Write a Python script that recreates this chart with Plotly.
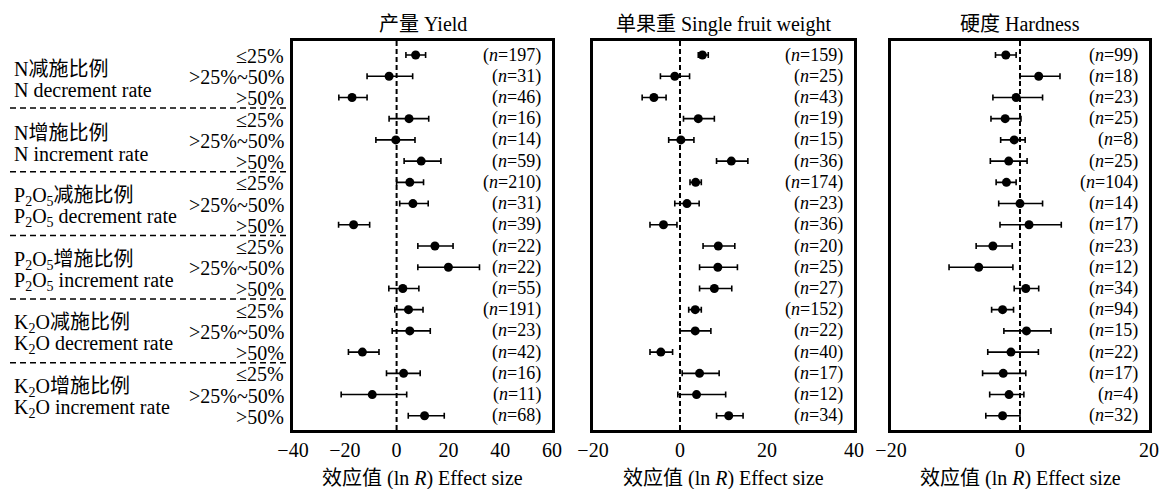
import plotly.graph_objects as go

W, H = 1159, 489

# ---------------- data ----------------
rows = list(range(1, 19))
sub_labels = ["≤25%", ">25%~50%", ">50%"] * 6
group_cn = ["N减施比例", "N增施比例", "P<sub>2</sub>O<sub>5</sub>减施比例",
            "P<sub>2</sub>O<sub>5</sub>增施比例", "K<sub>2</sub>O减施比例", "K<sub>2</sub>O增施比例"]
group_en = ["N decrement rate", "N increment rate", "P<sub>2</sub>O<sub>5</sub> decrement rate",
            "P<sub>2</sub>O<sub>5</sub> increment rate", "K<sub>2</sub>O decrement rate",
            "K<sub>2</sub>O increment rate"]

panel_titles = ["产量 Yield", "单果重 Single fruit weight", "硬度 Hardness"]
axis_title = "效应值 (ln <i>R</i>) Effect size"

yield_mean = [7.35, -2.9, -17.2, 4.8, -0.3, 9.5, 5.1, 6.3, -16.6, 14.8, 20.0, 2.4, 4.6, 5.1, -13.2, 2.7, -9.4, 10.8]
yield_lo = [3.6, -11.4, -22.3, -2.9, -8.0, 2.9, 0.0, 1.2, -22.4, 8.2, 8.2, -3.0, -0.7, -1.7, -18.6, -3.9, -21.4, 4.5]
yield_hi = [11.2, 6.2, -11.4, 12.4, 7.1, 17.1, 10.4, 12.2, -10.4, 21.8, 32.0, 8.6, 10.2, 13.0, -6.8, 9.1, 3.9, 18.4]
yield_n = [197, 31, 46, 16, 14, 59, 210, 31, 39, 22, 22, 55, 191, 23, 42, 16, 11, 68]

weight_mean = [5.15, -1.2, -6.0, 4.2, 0.2, 11.8, 3.6, 1.6, -3.8, 8.8, 8.7, 7.9, 3.5, 3.5, -4.4, 4.5, 3.8, 11.2]
weight_lo = [4.2, -4.5, -8.7, 0.8, -2.6, 8.4, 2.3, -1.2, -6.9, 5.3, 4.5, 4.5, 2.0, 0.0, -6.9, 0.5, -0.5, 8.4]
weight_hi = [6.5, 2.2, -3.2, 7.9, 3.2, 15.6, 4.9, 4.4, -0.7, 12.6, 13.2, 11.9, 4.9, 7.1, -1.7, 9.0, 10.5, 14.5]
weight_n = [159, 25, 43, 19, 15, 36, 174, 23, 36, 20, 25, 27, 152, 22, 40, 17, 12, 34]

hard_mean = [-2.2, 2.9, -0.6, -2.3, -0.9, -1.75, -2.1, 0.0, 1.4, -4.2, -6.4, 0.9, -2.7, 1.0, -1.4, -2.6, -1.7, -2.7]
hard_lo = [-3.8, 0.0, -4.2, -4.5, -3.0, -4.6, -3.7, -3.3, -3.1, -6.8, -11.0, -0.9, -4.4, -2.5, -5.0, -5.8, -4.7, -5.3]
hard_hi = [-0.6, 6.2, 3.5, 0.15, 0.8, 1.1, -0.6, 3.5, 6.4, -1.2, -1.1, 2.9, -1.0, 4.8, 2.85, 0.9, 0.6, 0.0]
hard_n = [99, 18, 23, 25, 8, 25, 104, 14, 17, 23, 12, 34, 94, 15, 22, 17, 4, 32]

x_ranges = [[-40, 60], [-20, 40], [-20, 20]]
x_ticks = [[-40, -20, 0, 20, 40, 60], [-20, 0, 20, 40], [-20, 0, 20]]

# ---------------- layout ----------------
FONT = "Liberation Serif, Times New Roman, Noto Sans CJK SC, serif"
px_dom = [(293, 552), (593, 854), (891, 1149)]
top_px, bot_px = 41, 430
ydom = [1 - bot_px / H, 1 - top_px / H]
yrange = [18.67, 0.34]

panels = [
    (yield_mean, yield_lo, yield_hi, yield_n),
    (weight_mean, weight_lo, weight_hi, weight_n),
    (hard_mean, hard_lo, hard_hi, hard_n),
]

fig = go.Figure()
annotations = []
shapes = []

for i, (m, lo, hi, n) in enumerate(panels):
    sfx = "" if i == 0 else str(i + 1)
    fig.add_trace(go.Scatter(
        x=m, y=rows, mode="markers",
        xaxis="x" + sfx, yaxis="y" + sfx,
        marker=dict(color="black", size=9),
        error_x=dict(type="data", symmetric=False,
                     array=[h - v for h, v in zip(hi, m)],
                     arrayminus=[v - l for v, l in zip(m, lo)],
                     color="black", thickness=1.6, width=3),
        showlegend=False, hoverinfo="skip",
    ))
    d0, d1 = px_dom[i]
    axis_common = dict(showline=True, mirror=True, linecolor="black", linewidth=2.5,
                       showgrid=False, zeroline=False, automargin=False)
    fig.update_layout(**{
        "xaxis" + sfx: dict(domain=[d0 / W, d1 / W], range=x_ranges[i], tickvals=x_ticks[i],
                            anchor="y" + sfx, ticks="", ticklabelstandoff=0,
                            tickfont=dict(family=FONT, size=20, color="black"), **axis_common),
        "yaxis" + sfx: dict(domain=ydom, range=yrange, anchor="x" + sfx,
                            showticklabels=False, ticks="", **axis_common),
    })
    # zero dashed line
    shapes.append(dict(type="line", xref="x" + sfx, yref="y" + sfx + " domain",
                       x0=0, x1=0, y0=0, y1=1,
                       line=dict(color="black", width=2, dash="5px,3px")))
    # n labels
    for r, nv in zip(rows, n):
        annotations.append(dict(xref="x" + sfx + " domain", yref="y" + sfx, x=1, y=r,
                                xanchor="right", yanchor="middle", xshift=-9,
                                text=f"(<i>n</i>={nv})", showarrow=False,
                                font=dict(family=FONT, size=18, color="black")))
    # panel title
    annotations.append(dict(xref="x" + sfx + " domain", yref="paper", x=0.5, y=1 - 24 / H,
                            xanchor="center", yanchor="middle", text=panel_titles[i],
                            showarrow=False, font=dict(family=FONT, size=20, color="black")))
    # axis title
    annotations.append(dict(xref="x" + sfx + " domain", yref="paper", x=0.5, y=1 - 478 / H,
                            xanchor="center", yanchor="middle", text=axis_title,
                            showarrow=False, font=dict(family=FONT, size=20, color="black")))

# left labels
for g in range(6):
    mid = 3 * g + 2
    annotations.append(dict(xref="paper", yref="y", x=12 / W, y=mid, xanchor="left",
                            yanchor="middle", yshift=7, text=group_cn[g], showarrow=False,
                            font=dict(family=FONT, size=20, color="black")))
    annotations.append(dict(xref="paper", yref="y", x=12 / W, y=mid, xanchor="left",
                            yanchor="middle", yshift=-14, text=group_en[g], showarrow=False,
                            font=dict(family=FONT, size=20, color="black")))
for r, lab in zip(rows, sub_labels):
    annotations.append(dict(xref="paper", yref="y", x=286 / W, y=r, xanchor="right",
                            yanchor="middle", yshift=-1, text=lab, showarrow=False,
                            font=dict(family=FONT, size=20, color="black")))
# group separators
for g in range(1, 6):
    yy = 3 * g + 0.5
    shapes.append(dict(type="line", xref="paper", yref="y", x0=10 / W, x1=293 / W,
                       y0=yy, y1=yy, line=dict(color="black", width=1.5, dash="6px,4px")))

fig.update_layout(template="none", width=W, height=H, margin=dict(l=0, r=0, t=0, b=0),
                  plot_bgcolor="white", paper_bgcolor="white",
                  annotations=annotations, shapes=shapes,
                  font=dict(family=FONT, color="black"))

fig.write_html("out.html", config={"displayModeBar": False},
               post_script="document.body.style.margin='0';document.body.style.overflow='hidden';")
